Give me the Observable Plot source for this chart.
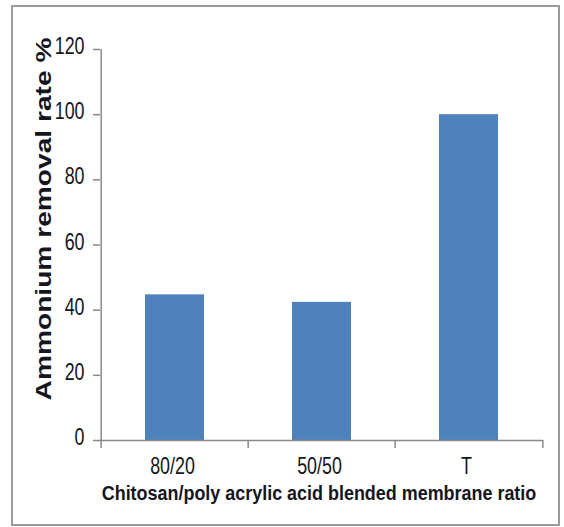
<!DOCTYPE html>
<html>
<head>
<meta charset="utf-8">
<script src="https://cdn.jsdelivr.net/npm/d3@7"></script>
<script src="https://cdn.jsdelivr.net/npm/@observablehq/plot@0.6"></script>
<style>
  html, body { margin: 0; padding: 0; background: #fff; }
  #wrap { position: relative; width: 564px; height: 527px; overflow: hidden; }
  #border { position: absolute; left: 11px; top: 5px; width: 549px; height: 521px; box-sizing: border-box; border: 2px solid #9a9a9a; }
  #chart { position: absolute; left: 0; top: 0; }
</style>
</head>
<body>
<div id="wrap"><div id="border"></div><div id="chart"></div></div>
<script>
const categories = ["80/20", "50/50", "T"];
const values = [44.7, 42.4, 100];
const yTicks = [0, 20, 40, 60, 80, 100, 120];
const xTitle = "Chitosan/poly acrylic acid blended membrane ratio";
const yTitle = "Ammonium removal rate %";

const data = categories.map((c, i) => ({cat: c, val: values[i]}));

const W = 564, H = 527;
const mL = 100, mR = 21, mT = 49, mB = 87;
const step = (W - mL - mR) / categories.length;
const axisColor = "#8a8a8a";
const textColor = "#151520";
const font = "'Liberation Sans', Arial, sans-serif";

const plot = Plot.plot({
  width: W,
  height: H,
  marginLeft: mL,
  marginRight: mR,
  marginTop: mT,
  marginBottom: mB,
  style: {fontFamily: font, background: "transparent", color: textColor},
  x: {domain: categories, paddingInner: 0.6, paddingOuter: 0.3, label: null},
  y: {domain: [0, 120], label: null},
  marks: [
    Plot.barY(data, {x: "cat", y: "val", fill: "#4f81bd"}),
    Plot.ruleY([0], {stroke: axisColor, strokeWidth: 1.5}),
    Plot.ruleX([categories[0]], {y1: 0, y2: 120, dx: -step / 2, stroke: axisColor, strokeWidth: 1.5}),
    Plot.axisY({ticks: yTicks, tickSize: 7, tickFormat: () => "", stroke: axisColor, strokeWidth: 1.5, label: null}),
    Plot.axisY({ticks: yTicks, tickSize: 0, tickPadding: 16, dy: -3, fontSize: 23.5, fill: textColor, label: null}),
    Plot.axisX({tickSize: 8, tickFormat: () => "", dx: -step / 2, stroke: axisColor, strokeWidth: 1.5, label: null}),
    Plot.axisX({ticks: [categories[categories.length - 1]], tickSize: 8, tickFormat: () => "", dx: step / 2, stroke: axisColor, strokeWidth: 1.5, label: null}),
    Plot.axisX({tickSize: 0, tickPadding: 16.5, dx: -2.5, fontSize: 23.5, fill: textColor, label: null}),
    Plot.text([xTitle], {frameAnchor: "bottom", textAnchor: "middle", dy: 59, dx: -3, fontSize: 21, fontWeight: "bold", fill: textColor}),
    Plot.text([yTitle], {frameAnchor: "left", textAnchor: "middle", rotate: -90, dx: -57, dy: -26, fontSize: 22, fontWeight: "bold", fill: textColor})
  ]
});

function squeeze(sel, sx) {
  sel.each(function() {
    const t = this.getAttribute("transform");
    if (t) {
      this.setAttribute("transform", t + ` scale(${sx},1)`);
    } else {
      const x = +(this.getAttribute("x") || 0), y = +(this.getAttribute("y") || 0);
      this.removeAttribute("x"); this.removeAttribute("y");
      this.setAttribute("transform", `translate(${x},${y}) scale(${sx},1)`);
    }
  });
}

// condensed / stretched look of the original texts
squeeze(d3.select(plot).selectAll('g[aria-label="y-axis tick label"] text, g[aria-label="x-axis tick label"] text'), 0.76);
squeeze(d3.select(plot).selectAll("text").filter(function() { return this.textContent === xTitle; }), 0.855);
squeeze(d3.select(plot).selectAll("text").filter(function() { return this.textContent === yTitle; }), 1.28);

document.getElementById("chart").appendChild(plot);
</script>
</body>
</html>
